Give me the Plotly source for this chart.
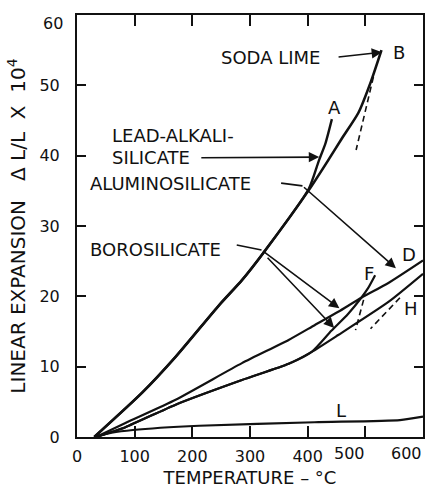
import plotly.graph_objects as go

# ---- data (temperature °C, expansion ΔL/L x 10^4) ----
soda_lime_t = [30, 113, 171, 247, 286, 327, 402, 436, 459, 488, 510, 528]
soda_lime_e = [0, 6.3, 11.4, 18.8, 22.3, 26.6, 35.1, 39.4, 42.4, 46.1, 50.6, 55.0]
soda_lime_dash_t = [514, 484]
soda_lime_dash_e = [51.2, 40.8]

lead_alkali_t = [30, 113, 171, 247, 286, 327, 402, 419, 431, 442]
lead_alkali_e = [0, 6.3, 11.4, 18.8, 22.3, 26.6, 35.3, 39.2, 41.8, 45.2]

alumino_t = [33, 84, 171, 286, 367, 412, 453, 493, 540, 600]
alumino_e = [0, 2.0, 5.3, 10.5, 13.8, 15.9, 17.8, 19.8, 21.9, 25.1]

boro_h_t = [33, 84, 171, 286, 367, 407, 453, 540, 600]
boro_h_e = [0, 1.4, 4.6, 8.1, 10.4, 12.1, 14.5, 19.2, 23.2]
boro_h_dash_t = [560, 509]
boro_h_dash_e = [19.8, 15.4]

boro_f_t = [33, 84, 171, 286, 367, 407, 441, 470, 493, 505, 517]
boro_f_e = [0, 1.4, 4.6, 8.1, 10.4, 12.1, 15.1, 17.5, 19.8, 21.2, 23.0]
boro_f_dash_t = [497, 483]
boro_f_dash_e = [19.5, 15.2]

silica_t = [30, 60, 97, 212, 412, 560, 600]
silica_e = [0, 0.6, 1.0, 1.6, 2.1, 2.4, 2.9]

x_ticks = [0, 100, 200, 300, 400, 500, 600]
x_tick_labels = ["0", "100", "200", "300", "400", "500", "600"]
y_ticks = [0, 10, 20, 30, 40, 50, 60]
y_tick_labels = ["0", "10", "20", "30", "40", "50", "60"]

FONT = "DejaVu Sans"
BLACK = "#111111"

fig = go.Figure()

def solid(t, e, w=2.2):
    fig.add_trace(go.Scatter(x=t, y=e, mode="lines",
                             line=dict(color=BLACK, width=w, shape="spline", smoothing=0.6),
                             hoverinfo="skip", showlegend=False))

def dashed(t, e):
    fig.add_trace(go.Scatter(x=t, y=e, mode="lines",
                             line=dict(color=BLACK, width=1.6, dash="6px,4px"),
                             hoverinfo="skip", showlegend=False))

solid(soda_lime_t, soda_lime_e, 2.6)
solid(lead_alkali_t, lead_alkali_e, 2.4)
solid(alumino_t, alumino_e)
solid(boro_h_t, boro_h_e)
solid(boro_f_t, boro_f_e)
solid(silica_t, silica_e)
dashed(soda_lime_dash_t, soda_lime_dash_e)
dashed(boro_h_dash_t, boro_h_dash_e)
dashed(boro_f_dash_t, boro_f_dash_e)

ann = []

def label(text, x, y, size=18, xanchor="left"):
    ann.append(dict(text=text, x=x, y=y, xref="x", yref="y", showarrow=False,
                    xanchor=xanchor, yanchor="middle",
                    font=dict(family=FONT, size=size, color=BLACK)))

def arrow(x0, y0, x1, y1):
    ann.append(dict(text="", x=x1, y=y1, ax=x0, ay=y0, xref="x", yref="y",
                    axref="x", ayref="y", showarrow=True, arrowhead=2,
                    arrowsize=1.3, arrowwidth=1.6, arrowcolor=BLACK, standoff=0))

label("SODA LIME", 247, 54.0)
arrow(451, 54.0, 529, 54.7)
label("LEAD-ALKALI-", 57, 42.9)
label("SILICATE", 57, 39.7)
arrow(213, 39.7, 420, 39.8)
label("ALUMINOSILICATE", 19, 36.1)
arrow(391, 35.7, 553, 24.0)
label("BOROSILICATE", 19, 26.6)
arrow(320, 26.6, 455, 18.3)
arrow(328, 25.7, 446, 15.5)

label("A", 446, 46.8, xanchor="center")
label("B", 558, 54.7, xanchor="center")
label("D", 576, 25.9, xanchor="center")
label("F", 507, 23.3, xanchor="center")
label("H", 579, 18.3, xanchor="center")
label("L", 458, 3.8, xanchor="center")

# the printed labels for 500 and 600 sit left of their ticks in the original
tick_label_pos = {"500": 472, "600": 572}
for txt, xpos in tick_label_pos.items():
    ann.append(dict(text=txt, x=xpos, y=0, xref="x", yref="paper", showarrow=False,
                    xanchor="center", yanchor="top", yshift=-5,
                    font=dict(family=FONT, size=16, color=BLACK)))
ann.append(dict(text="60", x=0, y=60, xref="paper", yref="y", showarrow=False,
                xanchor="right", yanchor="middle", xshift=-12, yshift=-8,
                font=dict(family=FONT, size=16, color=BLACK)))

x_text = [t if t not in tick_label_pos else "" for t in x_tick_labels]
y_text = [t if t != "60" else "" for t in y_tick_labels]

shapes = [
    dict(type="line", xref="x", yref="y", x0=354, y0=36.1, x1=391, y1=35.7,
         line=dict(color=BLACK, width=1.6)),
    dict(type="line", xref="x", yref="y", x0=277, y0=27.3, x1=320, y1=26.6,
         line=dict(color=BLACK, width=1.6)),
]

fig.update_layout(
    template="none",
    width=427, height=492,
    margin=dict(l=77, r=4, t=15, b=55),
    paper_bgcolor="white", plot_bgcolor="white",
    font=dict(family=FONT, color=BLACK),
    annotations=ann, shapes=shapes, showlegend=False,
)
fig.update_xaxes(
    range=[0, 600], tickvals=x_ticks, ticktext=x_text,
    ticks="inside", ticklen=11, tickwidth=1.5, tickcolor=BLACK,
    showline=True, linecolor=BLACK, linewidth=2, mirror="ticks",
    showgrid=False, zeroline=False, automargin=False,
    tickfont=dict(family=FONT, size=16, color=BLACK), ticklabelstandoff=4,
    title=dict(text="TEMPERATURE – °C", font=dict(family=FONT, size=18, color=BLACK), standoff=6),
)
fig.update_yaxes(
    range=[0, 60], tickvals=y_ticks, ticktext=y_text,
    ticks="inside", ticklen=9, tickwidth=1.5, tickcolor=BLACK,
    showline=True, linecolor=BLACK, linewidth=2, mirror="ticks",
    showgrid=False, zeroline=False, automargin=False,
    tickfont=dict(family=FONT, size=16, color=BLACK), ticklabelstandoff=12,
    title=dict(text="LINEAR EXPANSION   Δ L/L  X  10<sup>4</sup>",
               font=dict(family=FONT, size=20, color=BLACK), standoff=8),
)

fig.write_html(
    "out.html",
    config={"displayModeBar": False},
    post_script="document.body.style.margin='0';document.body.style.overflow='hidden';",
)
